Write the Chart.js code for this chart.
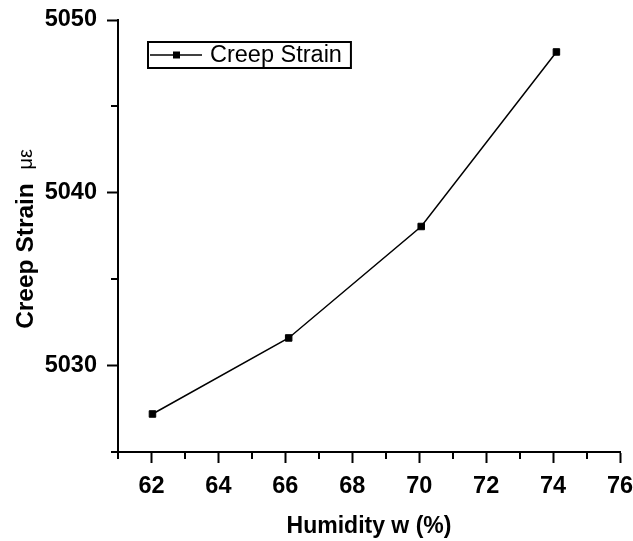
<!DOCTYPE html>
<html lang="en">
<head>
    <meta charset="UTF-8">
    <title>Creep Strain vs Humidity</title>
    <script src="https://cdn.jsdelivr.net/npm/chart.js"></script>
    <style>
        body {
            margin: 0;
            background: #ffffff;
        }
        #chart {
            display: block;
        }
    </style>
</head>
<body>
    <canvas id="chart" width="633" height="541"></canvas>

    <script>
        // data
        const humidity = [62.03, 66.1, 70.06, 74.1];
        const creepStrain = [5027.2, 5031.6, 5038.05, 5048.15];
        const seriesName = 'Creep Strain';
        const xTitle = 'Humidity w (%)';
        const yTitle = 'Creep Strain';
        const yUnit = 'με';
        const xMinorTicks = [61, 63, 65, 67, 69, 71, 73, 75];
        const yMinorTicks = [5025, 5035, 5045];

        const FONT = "'Liberation Sans', Arial, sans-serif";

        // minor ticks, y title with mixed fonts, and a boxed legend
        const extras = {
            id: 'extras',
            afterDraw(chart) {
                const c = chart.ctx;
                const area = chart.chartArea;
                const xs = chart.scales.x;
                const ys = chart.scales.y;

                c.save();
                c.strokeStyle = '#000';
                c.lineWidth = 2;
                c.beginPath();
                xMinorTicks.forEach(v => {
                    const px = Math.round(xs.getPixelForValue(v));
                    c.moveTo(px, area.bottom);
                    c.lineTo(px, area.bottom + 7);
                });
                yMinorTicks.forEach(v => {
                    const py = Math.round(ys.getPixelForValue(v));
                    c.moveTo(area.left, py);
                    c.lineTo(area.left - 7, py);
                });
                c.stroke();

                // y axis title
                const boldFont = 'bold 24.5px ' + FONT;
                const unitFont = '20px ' + FONT;
                const first = yTitle + '  ';
                c.font = boldFont;
                const w1 = c.measureText(first).width;
                c.font = unitFont;
                const w2 = c.measureText(yUnit).width;
                const total = w1 + w2;
                c.translate(26, (area.top + area.bottom) / 2 + 3);
                c.rotate(-Math.PI / 2);
                c.fillStyle = '#000';
                c.textBaseline = 'middle';
                c.textAlign = 'left';
                c.font = boldFont;
                c.fillText(first, -total / 2, 0);
                c.font = unitFont;
                c.fillText(yUnit, -total / 2 + w1, 0);
                c.restore();

                // legend
                c.save();
                const lx = area.left + 30, ly = area.top + 22;
                c.font = '23.5px ' + FONT;
                const tw = c.measureText(seriesName).width;
                const bw = 62 + tw + 9, bh = 26;
                c.strokeStyle = '#000';
                c.lineWidth = 2;
                c.strokeRect(lx, ly, bw, bh);
                c.lineWidth = 1.5;
                c.beginPath();
                c.moveTo(lx + 2, ly + bh / 2);
                c.lineTo(lx + 54, ly + bh / 2);
                c.stroke();
                c.fillStyle = '#000';
                c.fillRect(lx + 25, ly + bh / 2 - 3.5, 7, 7);
                c.textBaseline = 'middle';
                c.fillText(seriesName, lx + 62, ly + bh / 2 + 1);
                c.restore();
            }
        };

        const ctx = document.getElementById('chart').getContext('2d');

        const chart = new Chart(ctx, {
            type: 'line',
            data: {
                datasets: [{
                    label: seriesName,
                    data: humidity.map((h, i) => ({ x: h, y: creepStrain[i] })),
                    borderColor: '#000',
                    backgroundColor: '#000',
                    borderWidth: 1.5,
                    pointStyle: 'rect',
                    pointRadius: 4.6,
                    pointBorderWidth: 1,
                    tension: 0,
                    fill: false
                }]
            },
            options: {
                responsive: false,
                animation: false,
                layout: {
                    padding: { top: 20, right: 13, left: 0, bottom: 0 }
                },
                plugins: {
                    legend: { display: false },
                    tooltip: { enabled: false }
                },
                scales: {
                    x: {
                        type: 'linear',
                        min: 61,
                        max: 76,
                        afterFit(scale) {
                            scale.height = 89;
                            scale.paddingLeft = 0;
                            scale.paddingRight = 0;
                        },
                        ticks: {
                            stepSize: 1,
                            autoSkip: false,
                            maxRotation: 0,
                            padding: 9,
                            color: '#000',
                            font: { family: FONT, size: 23.5, weight: 'bold' },
                            callback: v => (v % 2 === 0 ? v : '')
                        },
                        grid: {
                            drawOnChartArea: false,
                            tickLength: 11,
                            tickWidth: 2,
                            tickColor: c => (c.tick && c.tick.value % 2 === 0 ? '#000' : 'rgba(0,0,0,0)')
                        },
                        border: { color: '#000', width: 2 },
                        title: {
                            display: true,
                            text: xTitle,
                            color: '#000',
                            font: { family: FONT, size: 23, weight: 'bold' },
                            padding: { top: 0, bottom: 1 }
                        }
                    },
                    y: {
                        type: 'linear',
                        min: 5025,
                        max: 5050,
                        afterFit(scale) {
                            scale.width = 118;
                            scale.paddingTop = 0;
                            scale.paddingBottom = 0;
                        },
                        ticks: {
                            stepSize: 5,
                            autoSkip: false,
                            padding: 10,
                            color: '#000',
                            font: { family: FONT, size: 23.5, weight: 'bold' },
                            callback: v => (v % 10 === 0 ? v : '')
                        },
                        grid: {
                            drawOnChartArea: false,
                            tickLength: 11,
                            tickWidth: 2,
                            tickColor: c => (c.tick && c.tick.value % 10 === 0 ? '#000' : 'rgba(0,0,0,0)')
                        },
                        border: { color: '#000', width: 2 }
                    }
                }
            },
            plugins: [extras]
        });
    </script>
</body>
</html>
